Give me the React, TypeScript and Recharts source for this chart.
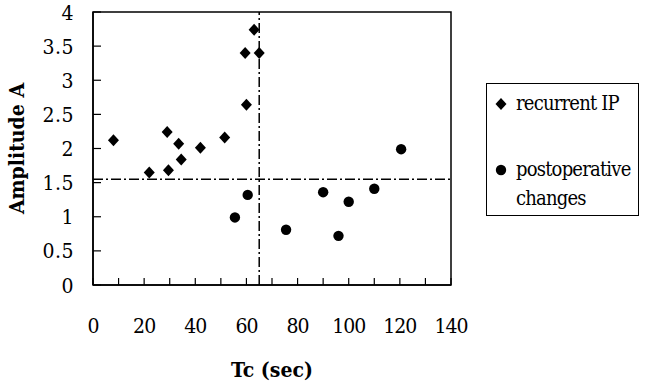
import { ScatterChart, Scatter, XAxis, YAxis, ReferenceLine, ReferenceArea, Legend } from "recharts";

// Tc (sec) and amplitude for each group
const recurrentTc = [8, 22, 29, 29.5, 33.5, 34.5, 42, 51.5, 59.5, 60, 63, 65];
const recurrentAmp = [2.12, 1.65, 2.24, 1.68, 2.07, 1.84, 2.01, 2.16, 3.4, 2.64, 3.74, 3.4];
const postopTc = [55.5, 60.5, 75.5, 90, 96, 100, 110, 120.5];
const postopAmp = [0.99, 1.32, 0.81, 1.36, 0.72, 1.22, 1.41, 1.99];

const xTicks = [0, 10, 20, 30, 40, 50, 60, 70, 80, 90, 100, 110, 120, 130, 140];
const yTicks = [0, 0.5, 1, 1.5, 2, 2.5, 3, 3.5, 4];
const cutoffTc = 65;
const cutoffAmp = 1.55;
const seriesNames = ["recurrent IP", "postoperative", "changes"];

const FONT = "'DejaVu Serif Condensed', 'DejaVu Serif', serif";
const serif = { fontFamily: FONT };

const recurrentData = recurrentTc.map((tc, i) => ({ tc, amp: recurrentAmp[i] }));
const postopData = postopTc.map((tc, i) => ({ tc, amp: postopAmp[i] }));

const XTick = (props: any) => {
  const { x, y, payload } = props;
  const v = payload.value;
  return (
    <g>
      <line x1={x} x2={x} y1={y} y2={y - 7} stroke="#000" strokeWidth={1.2} />
      {v % 20 === 0 && (
        <text x={x} y={y + 48} textAnchor="middle" fontSize={21} fill="#000" style={serif} letterSpacing={-1}>
          {v}
        </text>
      )}
    </g>
  );
};

const YTick = (props: any) => {
  const { x, y, payload } = props;
  return (
    <g>
      <line x1={x} x2={x + 8} y1={y} y2={y} stroke="#000" strokeWidth={1.2} />
      <text x={x - 19} y={y} dy="0.36em" textAnchor="end" fontSize={21} fill="#000" style={serif} letterSpacing={0.5}>
        {payload.value}
      </text>
    </g>
  );
};

const DiamondDot = (props: any) => {
  const { cx, cy } = props;
  return <polygon points={`${cx},${cy - 6} ${cx + 5.5},${cy} ${cx},${cy + 6} ${cx - 5.5},${cy}`} fill="#000" />;
};

const CircleDot = (props: any) => {
  const { cx, cy } = props;
  return <circle cx={cx} cy={cy} r={5.2} fill="#000" />;
};

const LegendBox = () => (
  <div style={{ width: 153, height: 133, border: "1.5px solid #000", boxSizing: "border-box", background: "#fff" }}>
    <svg width={150} height={130} style={{ display: "block" }}>
      <polygon points="14,14 19.5,20 14,26 8.5,20" fill="#000" />
      <text x={29} y={26} fontSize={20} style={serif} fill="#000" letterSpacing={-0.8}>
        {seriesNames[0]}
      </text>
      <circle cx={14} cy={86} r={5.2} fill="#000" />
      <text x={29} y={92} fontSize={20} style={serif} fill="#000" letterSpacing={-0.8}>
        {seriesNames[1]}
      </text>
      <text x={29} y={121} fontSize={20} style={serif} fill="#000" letterSpacing={-0.8}>
        {seriesNames[2]}
      </text>
    </svg>
  </div>
);

export default function App() {
  return (
    <div style={{ position: "absolute", left: 0, top: 0, width: 650, height: 387, background: "#fff", fontFamily: FONT }}>
      <ScatterChart
        width={650}
        height={387}
        margin={{ top: 12, right: 199, bottom: 0, left: 0 }}
        style={serif}
      >
        <XAxis
          type="number"
          dataKey="tc"
          domain={[0, 140]}
          ticks={xTicks}
          interval={0}
          height={102}
          tickSize={0}
          tickMargin={0}
          tickLine={false}
          tick={<XTick />}
          axisLine={{ stroke: "#000", strokeWidth: 1.5 }}
          label={{ value: "Tc (sec)", position: "insideBottom", offset: 10, fontSize: 21, fontWeight: "bold", fill: "#000", style: serif }}
        />
        <YAxis
          type="number"
          dataKey="amp"
          domain={[0, 4]}
          ticks={yTicks}
          interval={0}
          width={93}
          tickSize={0}
          tickMargin={0}
          tickLine={false}
          tick={<YTick />}
          axisLine={{ stroke: "#000", strokeWidth: 1.5 }}
          label={{ value: "Amplitude A", angle: -90, position: "insideLeft", offset: 17, textAnchor: "middle", fontSize: 21, fontWeight: "bold", fill: "#000", style: serif }}
        />
        <ReferenceArea x1={0} x2={140} y1={0} y2={4} fill="none" stroke="#000" strokeWidth={1.5} />
        <ReferenceLine x={cutoffTc} stroke="#000" strokeWidth={1.5} strokeDasharray="10 3 2 3" />
        <ReferenceLine y={cutoffAmp} stroke="#000" strokeWidth={1.5} strokeDasharray="10 3 2 3" />
        <Scatter name={seriesNames[0]} data={recurrentData} fill="#000" shape={<DiamondDot />} isAnimationActive={false} />
        <Scatter name="postoperative changes" data={postopData} fill="#000" shape={<CircleDot />} isAnimationActive={false} />
        <Legend
          layout="horizontal"
          verticalAlign="middle"
          align="center"
          content={<LegendBox />}
          wrapperStyle={{ left: 486, top: 83, width: 153, height: 133 }}
        />
      </ScatterChart>
    </div>
  );
}
